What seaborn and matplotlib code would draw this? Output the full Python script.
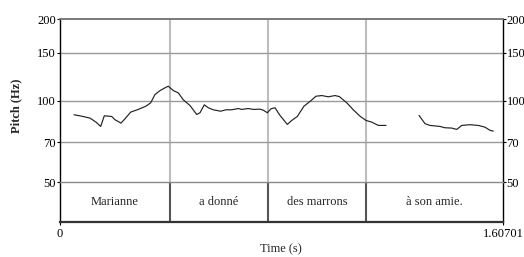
import matplotlib
matplotlib.use("Agg")
import matplotlib.pyplot as plt
import matplotlib.ticker as mticker
import numpy as np
import pandas as pd
import seaborn as sns

# ---- data ----
seg1_time = [0.0525, 0.0804, 0.1105, 0.1323, 0.1493, 0.1623, 0.1891, 0.2011, 0.2228, 0.2373,
             0.2580, 0.2855, 0.3134, 0.3305, 0.3460, 0.3642, 0.3859, 0.3942, 0.4124, 0.4305,
             0.4486, 0.4729, 0.4971, 0.5091, 0.5247, 0.5392, 0.5573, 0.5841, 0.6033, 0.6240,
             0.6479, 0.6602, 0.6841, 0.7022, 0.7265, 0.7385, 0.7530, 0.7664, 0.7809, 0.7990,
             0.8254, 0.8414, 0.8617, 0.8859, 0.9077, 0.9294, 0.9501, 0.9740, 0.9983, 1.0139,
             1.0407, 1.0646, 1.0889, 1.1106, 1.1313, 1.1552, 1.1831]
seg1_pitch = [88.6, 87.5, 86.1, 83.2, 80.2, 87.8, 87.3, 84.9, 82.5, 85.6,
              90.6, 92.7, 95.3, 98.1, 105.2, 108.8, 111.9, 112.9, 108.8, 106.7,
              100.6, 95.8, 88.8, 90.1, 96.4, 94.0, 92.4, 91.3, 92.4, 92.4,
              93.4, 92.7, 93.4, 92.7, 92.9, 92.1, 90.1, 93.2, 94.0, 88.1,
              81.6, 84.4, 87.3, 95.3, 99.2, 103.7, 104.3, 103.2, 104.3, 103.4,
              98.1, 92.4, 87.5, 84.4, 83.2, 80.9, 80.9]
seg2_time = [1.3027, 1.3244, 1.3425, 1.3787, 1.3969, 1.4212, 1.4393, 1.4574, 1.4875, 1.5175,
             1.5418, 1.5599, 1.5719]
seg2_pitch = [88.1, 82.1, 80.9, 80.2, 79.3, 79.1, 78.2, 80.9, 81.4, 80.9,
              79.7, 77.6, 77.1]

words = ["Marianne", "a donné", "des marrons", "à son amie."]
word_bounds = [0.0, 0.4004, 0.7555, 1.1106, 1.60701]
pitch_ticks = [50, 70, 100, 150, 200]
t_end = 1.60701

df = pd.DataFrame({
    "time": seg1_time + seg2_time,
    "pitch": seg1_pitch + seg2_pitch,
    "seg": [1] * len(seg1_time) + [2] * len(seg2_time),
})

sns.set_theme(style="white")
plt.rcParams["font.family"] = ["Liberation Serif", "DejaVu Serif"]
plt.rcParams["font.size"] = 9

W, H = 524, 257
fig = plt.figure(figsize=(W / 100, H / 100), dpi=100)
L, R = 59.5, 503
ax = fig.add_axes([L / W, 1 - 182 / H, (R - L) / W, (182 - 19) / H])
axt = fig.add_axes([L / W, 1 - 222 / H, (R - L) / W, 40 / H])

# pitch panel
for b in word_bounds[1:-1]:
    ax.axvline(b, color="#bdbdbd", lw=1.5, zorder=1)
for p in pitch_ticks[1:-1]:
    ax.axhline(p, color="#9a9a9a", lw=1.0, zorder=1)
sns.lineplot(data=df, x="time", y="pitch", units="seg", estimator=None,
             color="#222222", lw=0.85, ax=ax, zorder=3)
ax.set_yscale("log")
ax.set_ylim(50, 200)
ax.set_xlim(0, t_end)
ax.yaxis.set_major_locator(mticker.FixedLocator(pitch_ticks))
ax.yaxis.set_major_formatter(mticker.FixedFormatter([str(p) for p in pitch_ticks]))
ax.yaxis.set_minor_locator(mticker.NullLocator())
ax.set_xticks([])
ax.set_xlabel("")
ax.set_ylabel("Pitch (Hz)", fontweight="bold", fontsize=9)
ax.yaxis.set_label_coords(-0.083, 0.47)
ax.tick_params(axis="y", which="major", left=True, right=True, labelleft=True,
               labelright=True, length=2, width=0.8, pad=0.5, colors="black",
               labelsize=9, direction="out")
ax.spines["top"].set_color("#707070")
ax.spines["top"].set_linewidth(1.3)
ax.spines["bottom"].set_visible(False)
for s in ("left", "right"):
    ax.spines[s].set_color("black")
    ax.spines[s].set_linewidth(1.0)

# text tier
for b in word_bounds[1:-1]:
    axt.axvline(b, color="#555555", lw=1.5)
for w, a, b in zip(words, word_bounds[:-1], word_bounds[1:]):
    axt.text((a + b) / 2, 0.5, w, ha="center", va="center", fontsize=9)
axt.set_xlim(0, t_end)
axt.set_ylim(0, 1)
axt.set_yticks([])
axt.set_xticks([0, t_end])
axt.set_xticklabels(["0", "1.60701"])
axt.tick_params(axis="x", bottom=True, length=2, width=0.8, pad=2.5, labelsize=9, colors="black")
axt.set_xlabel("Time (s)", fontsize=9, labelpad=2)
axt.spines["top"].set_color("#8a8a8a")
axt.spines["top"].set_linewidth(1.0)
axt.spines["bottom"].set_color("#333333")
axt.spines["bottom"].set_linewidth(1.6)
for s in ("left", "right"):
    axt.spines[s].set_color("black")
    axt.spines[s].set_linewidth(1.0)

fig.savefig("out.png", dpi=100)
